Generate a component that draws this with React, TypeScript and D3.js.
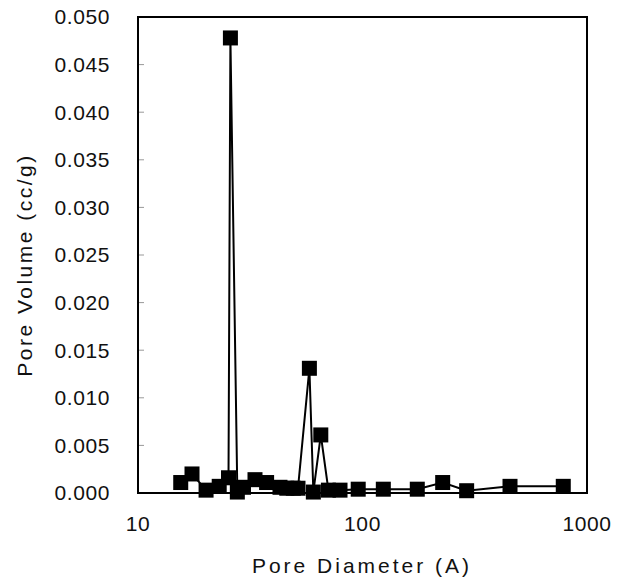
import React from 'react';
import * as d3 from 'd3';

// pore size distribution
const diameters = [15.5, 17.4, 20.1, 23.0, 25.3, 25.8, 27.7, 29.5, 33.2, 37.4, 42.9, 46.0, 49.2, 51.6,
  58.0, 60.4, 65.2, 70.5, 79.4, 95.7, 123.8, 175.4, 227.6, 291, 454, 784];
const volumes = [0.0011, 0.0020, 0.0003, 0.0007, 0.0016, 0.0478, 0.0001, 0.0006, 0.0014, 0.0011, 0.0006, 0.0005, 0.0005, 0.0005,
  0.0131, 0.0001, 0.0061, 0.0003, 0.0003, 0.0004, 0.0004, 0.0004, 0.0011, 0.00024, 0.0007, 0.0007];
const xTicks = [10, 100, 1000];
const yTicks = [0, 0.005, 0.01, 0.015, 0.02, 0.025, 0.03, 0.035, 0.04, 0.045, 0.05];

const W = 627, H = 579;
const left = 138, right = 587, top = 17, bottom = 493;
const font = '"Liberation Sans", Arial, sans-serif';

export default function App() {
  const x = d3.scaleLog().domain([10, 1000]).range([left, right]);
  const y = d3.scaleLinear().domain([0, 0.05]).range([bottom, top]);
  const pts = diameters.map((d, i) => [d, volumes[i]] as [number, number]);
  const line = d3.line<[number, number]>().x(d => x(d[0])).y(d => y(d[1]));
  const m = 15;

  return (
    <svg width={W} height={H} style={{ position: 'absolute', left: 0, top: 0, background: '#fff' }}>
      {yTicks.map(t => (
        <g key={t}>
          <line x1={left} x2={left + 6} y1={y(t)} y2={y(t)} stroke="#999" strokeWidth={1} />
          <text x={110} y={y(t)} dy="0.35em" textAnchor="end" fontFamily={font} fontSize={21}
            letterSpacing={0.6} fill="#111">{d3.format('.3f')(t)}</text>
        </g>
      ))}
      {xTicks.map(t => (
        <text key={t} x={x(t)} y={531} textAnchor="middle" fontFamily={font} fontSize={21}
          letterSpacing={0.6} fill="#111">{t}</text>
      ))}
      <path d={line(pts) || ''} fill="none" stroke="#000" strokeWidth={2} />
      {pts.map((p, i) => (
        <rect key={i} x={x(p[0]) - m / 2} y={y(p[1]) - m / 2} width={m} height={m} fill="#000" />
      ))}
      <rect x={left} y={top} width={right - left} height={bottom - top} fill="none" stroke="#000" strokeWidth={2} />
      <text x={362} y={573} textAnchor="middle" fontFamily={font} fontSize={21} letterSpacing={3}
        fill="#111">Pore Diameter (A)</text>
      <text transform="translate(32,265) rotate(-90)" textAnchor="middle" fontFamily={font} fontSize={21}
        letterSpacing={2.5} fill="#111">Pore Volume (cc/g)</text>
    </svg>
  );
}
